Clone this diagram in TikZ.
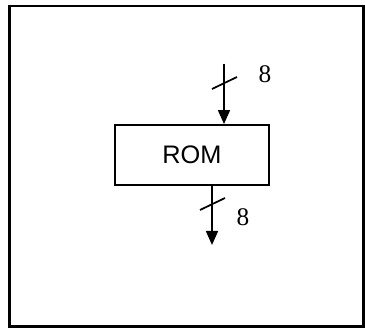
\documentclass[tikz,border=0pt]{standalone}
\usepackage{fontspec}
\setmainfont{Liberation Serif}
\setsansfont{Liberation Sans}
\usetikzlibrary{arrows.meta, positioning, calc}

\begin{document}
\begin{tikzpicture}[x=0.75pt, y=-0.75pt, >={Triangle[length=10.5pt, width=9pt]},
  wire/.style={line width=1.3pt},
  tick/.style={line width=1.3pt},
  block/.style={draw, line width=1.4pt, minimum width=115.5pt, minimum height=45pt,
    font=\sffamily\fontsize{19}{21}\selectfont, inner sep=0pt},
  width label/.style={font=\fontsize{19}{21}\selectfont, inner sep=0pt}]

\useasboundingbox (0,0) rectangle (365,328);

% Frame
\draw[line width=1.7pt] (9.5,6) rectangle (363.5,326.5);

% ROM block
\node[block] (rom) at (192,155) {ROM};

% Input bus (8 bits)
\coordinate (in) at (224,64);
\draw[wire, ->] (in) -- (in |- rom.north);
\draw[tick] (212,89) -- (237,77);
\node[width label] (inw) at (265,74) {8};

% Output bus (8 bits)
\coordinate (out) at (212,245);
\draw[wire, ->] (rom.south -| out) -- (out);
\draw[tick] (200,210) -- (225,198);
\node[width label] (outw) at (243,217) {8};

\end{tikzpicture}
\end{document}
